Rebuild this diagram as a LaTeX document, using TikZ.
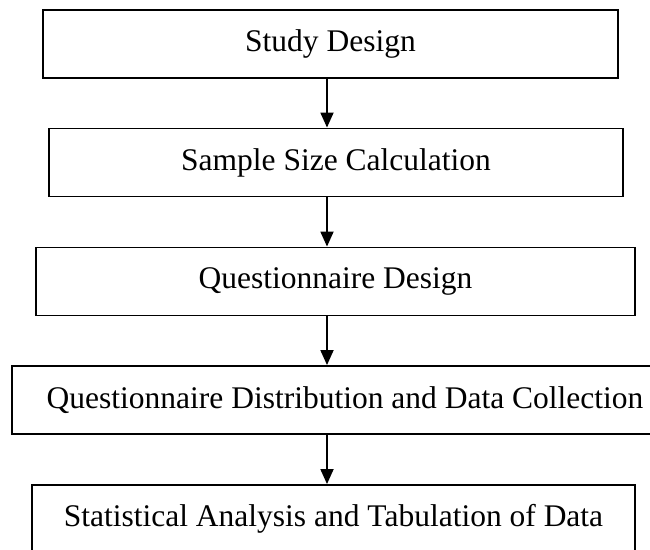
\documentclass[tikz,border=0pt]{standalone}
\usepackage{fontspec}
\setmainfont{Liberation Serif}
\usetikzlibrary{arrows.meta}
\begin{document}
\begin{tikzpicture}[x=1pt,y=-1pt,
  stage/.style={draw=black, line width=1.9pt, rectangle, inner sep=0pt,
    minimum height=68pt, font=\fontsize{31.5}{38}\selectfont},
  flow/.style={line width=1.8pt, -{Triangle[length=15pt,width=13pt]}}]
% page frame
\useasboundingbox (0,0) rectangle (650,549);
\fill[white] (0,0) rectangle (650,549);
\clip (0,0) rectangle (650,549);

% the five stages, top to bottom
\node[stage, minimum width=575pt] (b1) at (330.5,44)  {Study Design};
\node[stage, minimum width=574pt] (b2) at (336,162.5) {Sample Size Calculation};
\node[stage, minimum width=599pt] (b3) at (335.5,281.5) {Questionnaire Design};
\node[stage, minimum width=666pt] (b4) at (345,400) {Questionnaire Distribution and Data Collection};
\node[stage, minimum width=603pt] (b5) at (333.5,519) {Statistical Analysis and Tabulation of Data};

% common vertical line for all connectors
\coordinate (spine) at (327,0);
\draw[flow] (spine |- b1.south) -- (spine |- b2.north);
\draw[flow] (spine |- b2.south) -- (spine |- b3.north);
\draw[flow] (spine |- b3.south) -- (spine |- b4.north);
\draw[flow] (spine |- b4.south) -- (spine |- b5.north);
\end{tikzpicture}
\end{document}
